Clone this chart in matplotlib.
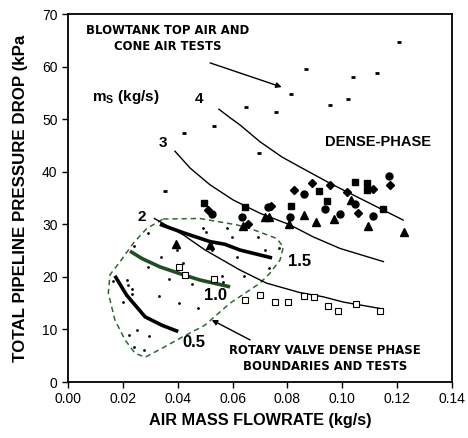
import matplotlib
matplotlib.use("Agg")
import matplotlib.pyplot as plt

plt.rcParams['font.family'] = ['Liberation Sans', 'DejaVu Sans']
plt.rcParams['mathtext.fontset'] = 'custom'
plt.rcParams['mathtext.rm'] = 'Liberation Sans'
plt.rcParams['mathtext.bf'] = 'Liberation Sans:bold'

# ---------------- data ----------------
# Blowtank top air and cone air tests (small dashes)
bt_x = [0.1207, 0.0868, 0.1038, 0.1125, 0.0813, 0.0649, 0.0758, 0.0955, 0.1020, 0.0533, 0.0697, 0.0424, 0.0354]
bt_y = [64.6, 59.5, 58.1, 58.7, 54.7, 52.4, 51.3, 52.7, 53.8, 48.7, 43.5, 47.3, 36.4]

# dense-phase tests
sq_x = [0.0497, 0.0646, 0.0813, 0.0915, 0.0943, 0.1046, 0.1091, 0.1091, 0.1150]
sq_y = [34.0, 33.2, 33.5, 36.4, 34.4, 38.1, 37.9, 36.6, 32.9]
ci_x = [0.0525, 0.0634, 0.0730, 0.0809, 0.0860, 0.0937, 0.0992, 0.1046, 0.1111, 0.1172]
ci_y = [32.0, 31.3, 33.2, 31.3, 35.7, 32.9, 31.9, 33.9, 31.6, 39.1]
di_x = [0.0510, 0.0655, 0.0740, 0.0824, 0.0891, 0.0955, 0.1016, 0.1058, 0.1113, 0.1174]
di_y = [32.8, 30.1, 33.5, 36.5, 37.8, 37.5, 36.2, 32.1, 36.8, 37.5]
tr_x = [0.0393, 0.0518, 0.0637, 0.0718, 0.0734, 0.0807, 0.0860, 0.0904, 0.0971, 0.1032, 0.1093, 0.1225]
tr_y = [26.2, 26.1, 29.7, 31.4, 31.4, 30.1, 31.8, 30.5, 31.0, 34.7, 29.7, 28.6]

# rotary valve tests (open squares)
rv_x = [0.0405, 0.0427, 0.0531, 0.0645, 0.0700, 0.0755, 0.0803, 0.0860, 0.0897, 0.0947, 0.0986, 0.1050, 0.1137]
rv_y = [21.9, 20.3, 19.6, 15.6, 16.5, 15.3, 15.3, 16.4, 16.2, 14.5, 13.6, 14.8, 13.6]

# rotary valve boundary tests (small dots)
dot_x = [0.0293, 0.0242, 0.0339, 0.0293, 0.0493, 0.0503, 0.0396, 0.0524, 0.0420, 0.0369,
         0.0451, 0.0560, 0.0566, 0.0333, 0.0405, 0.0475, 0.0615, 0.0578, 0.0597, 0.0694,
         0.0718, 0.0769, 0.0640, 0.0734, 0.0214, 0.0220, 0.0232, 0.0234, 0.0165, 0.0202,
         0.0253, 0.0224, 0.0295, 0.0241, 0.0278]
dot_y = [28.3, 25.9, 23.8, 21.9, 29.2, 28.6, 25.1, 25.1, 22.7, 19.6,
         18.7, 20.1, 19.0, 16.4, 15.0, 14.1, 23.8, 29.2, 27.5, 27.5,
         25.2, 25.5, 20.2, 21.6, 19.4, 18.5, 17.6, 16.7, 19.3, 15.3,
         9.9, 9.0, 8.8, 6.7, 6.0]

# constant solids flow-rate curves ms (kg/s)
ms4_x = [0.0550, 0.0590, 0.0627, 0.0700, 0.0780, 0.0846, 0.0955, 0.1016, 0.1100, 0.1222]
ms4_y = [51.9, 50.3, 48.9, 45.7, 42.8, 40.9, 37.8, 36.2, 34.0, 30.8]
ms3_x = [0.0390, 0.0445, 0.0518, 0.0603, 0.0700, 0.0809, 0.0894, 0.0992, 0.1150]
ms3_y = [43.9, 40.7, 37.5, 34.6, 32.1, 29.9, 27.6, 25.4, 22.9]
ms2_x = [0.0315, 0.0420, 0.0500, 0.0627, 0.0724, 0.0846, 0.0931, 0.1004, 0.1137]
ms2_y = [31.1, 28.0, 25.1, 21.3, 18.8, 17.0, 16.2, 15.2, 14.0]
ms15_x = [0.0335, 0.0420, 0.0518, 0.0572, 0.0627, 0.0744]
ms15_y = [30.0, 28.4, 26.7, 26.2, 25.1, 23.6]
ms10_x = [0.0226, 0.0269, 0.0335, 0.0420, 0.0481, 0.0591]
ms10_y = [24.9, 23.5, 21.9, 20.4, 19.4, 18.1]
ms05_x = [0.0171, 0.0214, 0.0281, 0.0342, 0.0402]
ms05_y = [20.2, 16.5, 12.4, 10.8, 9.6]

# rotary valve dense-phase boundary
bd_x = [0.0347, 0.0481, 0.0615, 0.0664, 0.0761, 0.0785, 0.0773, 0.0736, 0.0700, 0.0591,
        0.0499, 0.0415, 0.0342, 0.0281, 0.0244, 0.0208, 0.0171, 0.0147, 0.0153, 0.0190,
        0.0238, 0.0287, 0.0347]
bd_y = [31.0, 31.1, 29.9, 29.2, 27.3, 25.7, 23.2, 20.7, 18.8, 15.0,
        10.8, 8.5, 6.4, 4.7, 5.5, 8.0, 11.8, 16.9, 20.4, 22.9,
        26.4, 29.2, 31.0]

x_ticks = [0.00, 0.02, 0.04, 0.06, 0.08, 0.10, 0.12, 0.14]
y_ticks = [0, 10, 20, 30, 40, 50, 60, 70]

# ---------------- figure ----------------
fig = plt.figure(figsize=(4.68, 4.38), dpi=100)
ax = fig.add_axes([68/468, 1-382/438, (452-68)/468, (382-14)/438])

green = '#1f4f1f'
ax.plot(bd_x, bd_y, color='#2d6a2d', lw=1.1, ls=(0, (3.5, 2.5)))

ax.plot(ms4_x, ms4_y, color='k', lw=1.0)
ax.plot(ms3_x, ms3_y, color='k', lw=1.0)
ax.plot(ms2_x, ms2_y, color='k', lw=1.0)
ax.plot(ms15_x, ms15_y, color='k', lw=2.6, solid_capstyle='butt')
ax.plot(ms10_x, ms10_y, color=green, lw=2.6, solid_capstyle='butt')
ax.plot(ms05_x, ms05_y, color='k', lw=2.6, solid_capstyle='butt')

ax.plot(bt_x, bt_y, ls='none', marker='_', ms=3.2, mew=2.0, color='k')
ax.plot(dot_x, dot_y, ls='none', marker='o', ms=2.0, color='k', mew=0)
ax.plot(rv_x, rv_y, ls='none', marker='s', ms=3.8, mfc='white', mec='k', mew=0.8)
ax.plot(sq_x, sq_y, ls='none', marker='s', ms=4.5, color='k')
ax.plot(ci_x, ci_y, ls='none', marker='o', ms=5, color='k')
ax.plot(di_x, di_y, ls='none', marker='D', ms=4.5, color='k')
ax.plot(tr_x, tr_y, ls='none', marker='^', ms=5.5, color='k')

ax.set_xlim(0, 0.14)
ax.set_ylim(0, 70)
ax.set_xticks(x_ticks)
ax.set_yticks(y_ticks)
ax.set_xticklabels([f"{v:.2f}" for v in x_ticks])
ax.tick_params(direction='out', length=4, width=1, labelsize=10, colors='k')
for s in ax.spines.values():
    s.set_linewidth(1.3)

ax.set_xlabel('AIR MASS FLOWRATE (kg/s)', fontsize=11.7, fontweight='bold', labelpad=5)
ax.set_ylabel('TOTAL PIPELINE PRESSURE DROP (kPa', fontsize=12.2, fontweight='bold', labelpad=10)

# annotations
ax.text(0.0365, 66.8, 'BLOWTANK TOP AIR AND', ha='center', va='center', fontsize=8.4,
        fontweight='bold', family=['DejaVu Sans'])
ax.text(0.0365, 63.8, 'CONE AIR TESTS', ha='center', va='center', fontsize=8.4,
        fontweight='bold', family=['DejaVu Sans'])
ax.annotate('', xy=(0.0779, 56.1), xytext=(0.0518, 60.7),
            arrowprops=dict(arrowstyle='-|>', color='k', lw=1.0, mutation_scale=8, shrinkA=0, shrinkB=0))
ax.text(0.0088, 54.2, r'm$_{\mathbf{S}}$ (kg/s)', ha='left', va='center', fontsize=11, fontweight='bold')

ax.text(0.0478, 53.8, '4', ha='center', va='center', fontsize=11, fontweight='bold')
ax.text(0.0347, 45.5, '3', ha='center', va='center', fontsize=11, fontweight='bold')
ax.text(0.0269, 31.4, '2', ha='center', va='center', fontsize=11, fontweight='bold')
ax.text(0.0845, 22.9, '1.5', ha='center', va='center', fontsize=12, fontweight='bold')
ax.text(0.0537, 16.5, '1.0', ha='center', va='center', fontsize=12, fontweight='bold')
ax.text(0.0459, 7.6, '0.5', ha='center', va='center', fontsize=12, fontweight='bold')

ax.text(0.1132, 45.6, 'DENSE-PHASE', ha='center', va='center', fontsize=10.5, fontweight='bold')

ax.text(0.0937, 6.0, 'ROTARY VALVE DENSE PHASE', ha='center', va='center', fontsize=8.4,
        fontweight='bold', family=['DejaVu Sans'])
ax.text(0.0937, 2.9, 'BOUNDARIES AND TESTS', ha='center', va='center', fontsize=8.4,
        fontweight='bold', family=['DejaVu Sans'])
ax.annotate('', xy=(0.0524, 11.8), xytext=(0.0664, 8.0),
            arrowprops=dict(arrowstyle='-|>', color='k', lw=1.0, mutation_scale=8, shrinkA=0, shrinkB=0))

fig.savefig('out.png', dpi=100)
